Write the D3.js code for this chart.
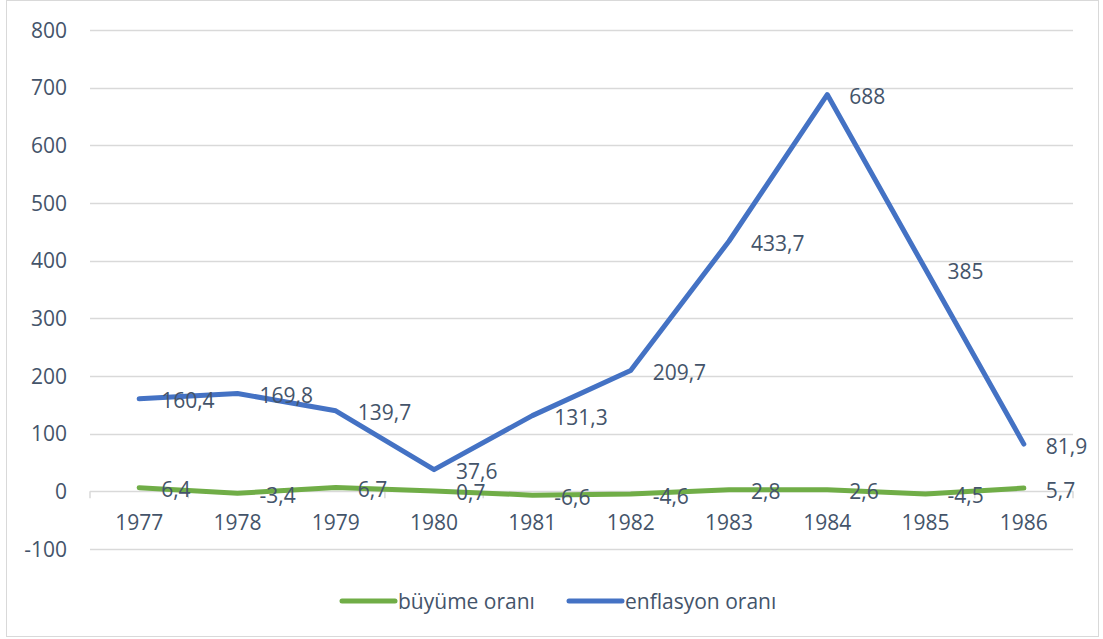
<!DOCTYPE html>
<html>
  <head>
    <meta charset="utf-8" />
    <script src="https://d3js.org/d3.v7.min.js"></script>
    <style>
      body { margin: 0; background: #fff; }
      text { font-family: "Open Sans", sans-serif; fill: #44546A; }
    </style>
  </head>
  <body>
    <svg id="chart" width="1103" height="639"></svg>
    <script>
      var years = ["1977", "1978", "1979", "1980", "1981", "1982", "1983", "1984", "1985", "1986"];
      var buyume = [6.4, -3.4, 6.7, 0.7, -6.6, -4.6, 2.8, 2.6, -4.5, 5.7];
      var enflasyon = [160.4, 169.8, 139.7, 37.6, 131.3, 209.7, 433.7, 688, 385, 81.9];
      var yTicks = [-100, 0, 100, 200, 300, 400, 500, 600, 700, 800];
      var seriesNames = ["büyüme oranı", "enflasyon oranı"];
      var seriesColors = ["#70AD47", "#4472C4"];

      var svg = d3.select("#chart");
      var fontSize = 21;

      // outer border
      svg.append("rect")
        .attr("x", 6.5).attr("y", 0.5)
        .attr("width", 1092).attr("height", 636)
        .attr("fill", "none").attr("stroke", "#D9D9D9");

      var x = d3.scaleBand().domain(years).range([90, 1073]);
      var y = d3.scaleLinear().domain([-100, 800]).range([549, 30]);

      // Turkish style: comma decimal, plain hyphen minus
      var trFormat = d3.formatLocale({ decimal: ",", thousands: ".", grouping: [3], currency: ["", ""], minus: "-" });
      var fmt = trFormat.format("");

      // gridlines
      svg.append("g").selectAll("line")
        .data(yTicks)
        .enter().append("line")
        .attr("x1", 90).attr("x2", 1073)
        .attr("y1", function(d) { return Math.round(y(d)) + 0.5; })
        .attr("y2", function(d) { return Math.round(y(d)) + 0.5; })
        .attr("stroke", "#D9D9D9").attr("stroke-width", 1.5);

      // y labels
      svg.append("g").selectAll("text")
        .data(yTicks)
        .enter().append("text")
        .attr("x", 67)
        .attr("y", function(d) { return y(d); })
        .attr("dy", "0.36em")
        .attr("text-anchor", "end")
        .attr("font-size", fontSize)
        .text(function(d) { return fmt(d); });

      // category ticks on zero line
      var bounds = years.map(function(d) { return x(d); }).concat([1073]);
      svg.append("g").selectAll("line")
        .data(bounds)
        .enter().append("line")
        .attr("x1", function(d) { return d; }).attr("x2", function(d) { return d; })
        .attr("y1", y(0)).attr("y2", y(0) + 7)
        .attr("stroke", "#D9D9D9").attr("stroke-width", 1.5);

      // x labels
      svg.append("g").selectAll("text")
        .data(years)
        .enter().append("text")
        .attr("x", function(d) { return x(d) + x.bandwidth() / 2; })
        .attr("y", 522)
        .attr("dy", "0.36em")
        .attr("text-anchor", "middle")
        .attr("font-size", fontSize)
        .text(function(d) { return d; });

      var line = d3.line()
        .x(function(d, i) { return x(years[i]) + x.bandwidth() / 2; })
        .y(function(d) { return y(d); });

      [buyume, enflasyon].forEach(function(series, k) {
        svg.append("path")
          .datum(series)
          .attr("d", line)
          .attr("fill", "none")
          .attr("stroke", seriesColors[k])
          .attr("stroke-width", 5)
          .attr("stroke-linejoin", "round")
          .attr("stroke-linecap", "round");
      });

      [buyume, enflasyon].forEach(function(series) {
        svg.append("g").selectAll("text")
          .data(series)
          .enter().append("text")
          .attr("x", function(d, i) { return x(years[i]) + x.bandwidth() / 2 + 22; })
          .attr("y", function(d) { return y(d) + 2; })
          .attr("dy", "0.36em")
          .attr("font-size", fontSize)
          .text(function(d) { return fmt(d); });
      });

      // legend
      var legendX = [340, 567];
      seriesNames.forEach(function(name, k) {
        svg.append("line")
          .attr("x1", legendX[k] + 2).attr("x2", legendX[k] + 55)
          .attr("y1", 601).attr("y2", 601)
          .attr("stroke", seriesColors[k]).attr("stroke-width", 5)
          .attr("stroke-linecap", "round");
        svg.append("text")
          .attr("x", legendX[k] + 58)
          .attr("y", 601)
          .attr("dy", "0.36em")
          .attr("font-size", fontSize)
          .text(name);
      });
    </script>
  </body>
</html>
